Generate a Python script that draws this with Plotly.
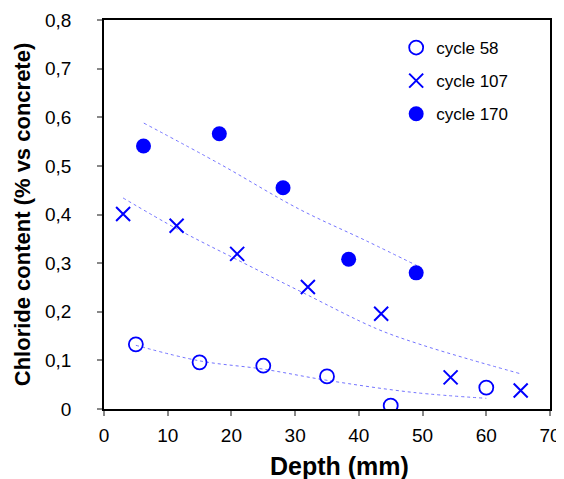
import plotly.graph_objects as go

# Data
depth_58 = [5, 15, 25, 35, 45, 60]
cl_58 = [0.133, 0.096, 0.089, 0.067, 0.007, 0.044]

depth_107 = [3, 11.4, 20.9, 32, 43.5, 54.4, 65.4]
cl_107 = [0.401, 0.377, 0.319, 0.251, 0.196, 0.065, 0.038]

depth_170 = [6.2, 18.1, 28.1, 38.4, 49]
cl_170 = [0.541, 0.566, 0.455, 0.308, 0.280]

# Trend lines
trend_x_58 = [5, 15, 25, 35, 48.6, 60]
trend_y_58 = [0.131, 0.099, 0.082, 0.059, 0.034, 0.022]
trend_x_107 = [3, 11.5, 20.9, 31.1, 42.8, 49.6, 57.4, 65.5]
trend_y_107 = [0.434, 0.370, 0.307, 0.240, 0.165, 0.133, 0.102, 0.072]
trend_x_170 = [6.25, 18.3, 30.5, 41.3, 49.1]
trend_y_170 = [0.588, 0.503, 0.412, 0.345, 0.295]

x_ticks = [0, 10, 20, 30, 40, 50, 60, 70]
y_ticks = [0, 0.1, 0.2, 0.3, 0.4, 0.5, 0.6, 0.7, 0.8]
y_ticktext = ["0", "0,1", "0,2", "0,3", "0,4", "0,5", "0,6", "0,7", "0,8"]

BLUE = "#0000FF"
TREND = "rgba(100,100,255,0.9)"
FONT = "Arial, Liberation Sans, sans-serif"

fig = go.Figure()

for tx, ty in [(trend_x_58, trend_y_58), (trend_x_107, trend_y_107), (trend_x_170, trend_y_170)]:
    fig.add_trace(go.Scatter(x=tx, y=ty, mode="lines", showlegend=False,
                             line=dict(color=TREND, width=1, dash="dot", shape="spline"),
                             hoverinfo="skip"))

fig.add_trace(go.Scatter(x=depth_58, y=cl_58, mode="markers", name="cycle 58",
                         legendgroup="a",
                         marker=dict(symbol="circle-open", size=14, color=BLUE,
                                     line=dict(width=1.8, color=BLUE))))
fig.add_trace(go.Scatter(x=depth_107, y=cl_107, mode="markers", name="cycle 107",
                         legendgroup="b",
                         marker=dict(symbol="x-thin-open", size=14, color=BLUE,
                                     line=dict(width=2, color=BLUE))))
fig.add_trace(go.Scatter(x=depth_170, y=cl_170, mode="markers", name="cycle 170",
                         legendgroup="c",
                         marker=dict(symbol="circle", size=15, color=BLUE,
                                     line=dict(width=0))))

# page body has an 8px default margin, so the figure is drawn from (8, 8)
fig.update_layout(
    width=556, height=471,
    margin=dict(l=95.5, r=14, t=12, b=69.5, pad=0, autoexpand=False),
    paper_bgcolor="white", plot_bgcolor="white",
    font=dict(family=FONT, color="black", size=17),
    legend=dict(x=(396 - 103.5) / (550 - 103.5), y=1 - (30 - 20) / 389.5,
                xanchor="left", yanchor="top",
                font=dict(size=17, family=FONT), traceorder="grouped",
                tracegroupgap=8, bgcolor="rgba(0,0,0,0)", itemwidth=30),
    showlegend=True,
    annotations=[dict(text="<b>Depth (mm)</b>", xref="paper", yref="paper",
                      x=(339 - 103.5) / 446.5, y=(409.5 - 467) / 389.5,
                      xanchor="center", yanchor="middle", showarrow=False,
                      font=dict(size=25, family=FONT, color="black"))],
)

fig.update_xaxes(range=[0, 70], tickvals=x_ticks, ticktext=[str(v) for v in x_ticks],
                 showline=True, linecolor="black", linewidth=1.5, mirror=True,
                 ticks="outside", ticklen=5, tickcolor="#888", tickwidth=1.5,
                 showgrid=False, zeroline=False, automargin=False, ticklabelstandoff=3,
                 tickfont=dict(size=19, family=FONT))
fig.update_yaxes(range=[0, 0.8], tickvals=y_ticks, ticktext=y_ticktext,
                 showline=True, linecolor="black", linewidth=1.5, mirror=True,
                 ticks="outside", ticklen=5, tickcolor="#888", tickwidth=1.5,
                 showgrid=False, zeroline=False, ticklabelstandoff=22, automargin=False,
                 tickfont=dict(size=19, family=FONT),
                 title=dict(text="<b>Chloride content (% vs concrete)</b>",
                            font=dict(size=22, family=FONT), standoff=8))

fig.write_html("out.html")
